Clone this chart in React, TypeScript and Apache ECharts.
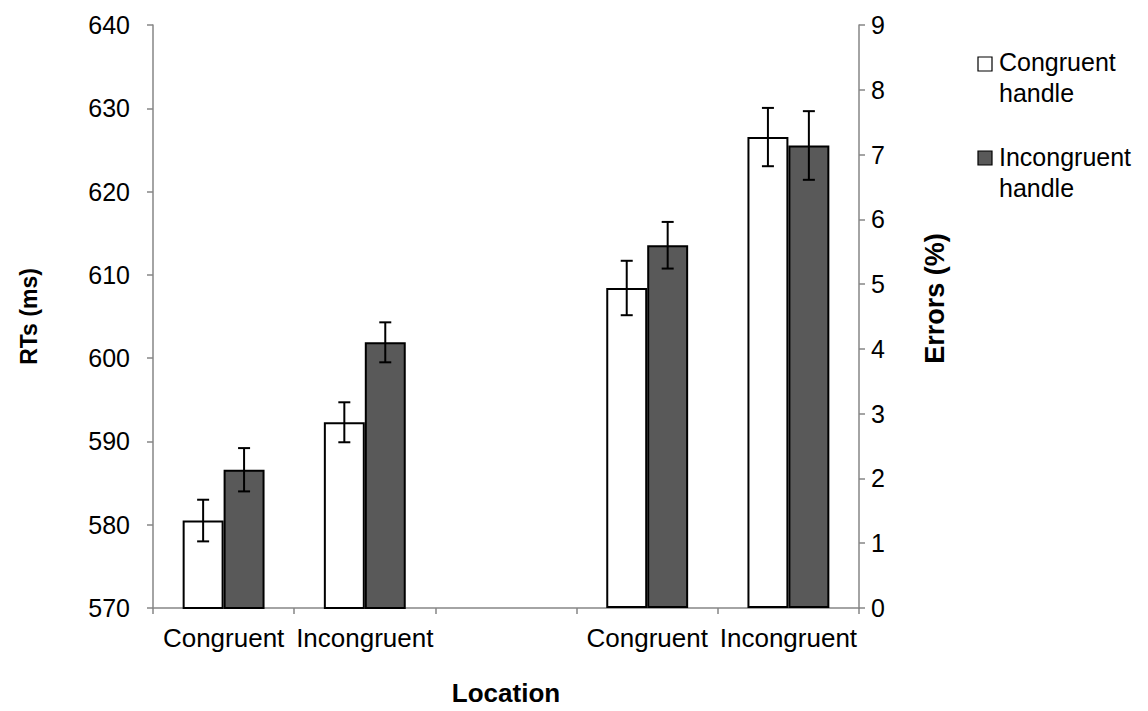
import React, { useEffect, useRef } from "react";
import * as echarts from "echarts";

const categories = ["Congruent", "Incongruent", "", "Congruent", "Incongruent"];
const seriesNames = ["Congruent handle", "Incongruent handle"];

// RTs (ms), left axis, first pair of categories
const rtCongruentHandle = [580.5, 592.3];
const rtCongruentHandleErr = [2.5, 2.4];
const rtIncongruentHandle = [586.6, 601.9];
const rtIncongruentHandleErr = [2.6, 2.4];

// Errors (%), right axis, last pair of categories
const errCongruentHandle = [4.94, 7.27];
const errCongruentHandleErr = [0.42, 0.45];
const errIncongruentHandle = [5.6, 7.14];
const errIncongruentHandleErr = [0.36, 0.53];

const rtTicks = { min: 570, max: 640, interval: 10 };
const errTicks = { min: 0, max: 9, interval: 1 };

const FONT = "Arial, 'Liberation Sans', sans-serif";
const AXIS_COLOR = "#868686";
const DARK = "#595959";

const rtIdx = [0, 1];
const errIdx = [3, 4];

function fill(idx: number[], vals: number[]) {
  const out: (number | string)[] = categories.map(() => "-");
  idx.forEach((c, i) => (out[c] = vals[i]));
  return out;
}

function errData(idx: number[], vals: number[], errs: number[]) {
  return idx.map((c, i) => [c, vals[i], errs[i]]);
}

function errorBarSeries(
  data: number[][],
  offsetFrac: number,
  xAxisIndex: number,
  yAxisIndex: number
) {
  return {
    type: "custom",
    xAxisIndex,
    yAxisIndex,
    z: 5,
    silent: true,
    encode: { x: 0, y: 1 },
    data,
    renderItem: (params: any, api: any) => {
      const c = api.value(0);
      const v = api.value(1);
      const e = api.value(2);
      const top = api.coord([c, v + e]);
      const bot = api.coord([c, v - e]);
      const w = api.size([1, 0])[0];
      const x = top[0] + offsetFrac * w;
      const cap = 6;
      const style = { stroke: "#000", lineWidth: 2 };
      return {
        type: "group",
        children: [
          { type: "line", shape: { x1: x, y1: top[1], x2: x, y2: bot[1] }, style },
          { type: "line", shape: { x1: x - cap, y1: top[1], x2: x + cap, y2: top[1] }, style },
          { type: "line", shape: { x1: x - cap, y1: bot[1], x2: x + cap, y2: bot[1] }, style },
        ],
      };
    },
  };
}

export default function App() {
  const ref = useRef<HTMLDivElement>(null);

  useEffect(() => {
    if (!ref.current) return;
    const chart = echarts.init(ref.current, null, { renderer: "svg" });

    const barCommon = {
      type: "bar",
      barGap: "0%",
      barCategoryGap: "42%",
      itemStyle: { borderColor: "#000", borderWidth: 2 },
    };

    const tickLabel = { color: "#000", fontSize: 25, fontFamily: FONT };
    const nameStyle = { color: "#000", fontWeight: "bold", fontFamily: FONT };

    chart.setOption({
      animation: false,
      textStyle: { fontFamily: FONT },
      grid: { left: 153, right: 289, top: 25, bottom: 99, containLabel: false },
      xAxis: [
        {
          type: "category",
          data: categories,
          name: "Location",
          nameLocation: "middle",
          nameGap: 72,
          nameTextStyle: { ...nameStyle, fontSize: 26 },
          axisLine: { show: true, lineStyle: { color: AXIS_COLOR, width: 1.5 } },
          axisTick: { show: true, length: 6, lineStyle: { color: AXIS_COLOR, width: 1.5 } },
          axisLabel: { color: "#000", fontSize: 26, fontFamily: FONT, margin: 17, interval: 0 },
        },
        {
          type: "category",
          data: categories,
          show: false,
        },
      ],
      yAxis: [
        {
          type: "value",
          position: "left",
          ...rtTicks,
          name: "RTs (ms)",
          nameLocation: "middle",
          nameRotate: 90,
          nameGap: 113,
          nameTextStyle: { ...nameStyle, fontSize: 23 },
          splitLine: { show: false },
          axisLine: { show: true, lineStyle: { color: AXIS_COLOR, width: 1.5 } },
          axisTick: { show: true, length: 6, lineStyle: { color: AXIS_COLOR, width: 1.5 } },
          axisLabel: { ...tickLabel, margin: 23 },
        },
        {
          type: "value",
          position: "right",
          ...errTicks,
          name: "Errors (%)",
          nameLocation: "middle",
          nameRotate: 90,
          nameGap: 62,
          nameTextStyle: { ...nameStyle, fontSize: 27, padding: [0, 0, 0, 36] },
          splitLine: { show: false },
          axisLine: { show: true, lineStyle: { color: AXIS_COLOR, width: 1.5 } },
          axisTick: { show: true, length: 6, lineStyle: { color: AXIS_COLOR, width: 1.5 } },
          axisLabel: { ...tickLabel, margin: 12 },
        },
      ],
      series: [
        {
          ...barCommon,
          name: seriesNames[0],
          xAxisIndex: 0,
          yAxisIndex: 0,
          data: fill(rtIdx, rtCongruentHandle),
          itemStyle: { ...barCommon.itemStyle, color: "#fff" },
        },
        {
          ...barCommon,
          name: seriesNames[1],
          xAxisIndex: 0,
          yAxisIndex: 0,
          data: fill(rtIdx, rtIncongruentHandle),
          itemStyle: { ...barCommon.itemStyle, color: DARK },
        },
        {
          ...barCommon,
          name: seriesNames[0],
          xAxisIndex: 1,
          yAxisIndex: 1,
          data: fill(errIdx, errCongruentHandle),
          itemStyle: { ...barCommon.itemStyle, color: "#fff" },
        },
        {
          ...barCommon,
          name: seriesNames[1],
          xAxisIndex: 1,
          yAxisIndex: 1,
          data: fill(errIdx, errIncongruentHandle),
          itemStyle: { ...barCommon.itemStyle, color: DARK },
        },
        errorBarSeries(errData(rtIdx, rtCongruentHandle, rtCongruentHandleErr), -0.145, 0, 0),
        errorBarSeries(errData(rtIdx, rtIncongruentHandle, rtIncongruentHandleErr), 0.145, 0, 0),
        errorBarSeries(errData(errIdx, errCongruentHandle, errCongruentHandleErr), -0.145, 1, 1),
        errorBarSeries(errData(errIdx, errIncongruentHandle, errIncongruentHandleErr), 0.145, 1, 1),
      ],
      graphic: [
        {
          type: "rect",
          shape: { x: 978, y: 57, width: 14, height: 14 },
          style: { fill: "#fff", stroke: "#000", lineWidth: 1.2 },
        },
        {
          type: "text",
          x: 999,
          y: 46.5,
          style: {
            text: seriesNames[0].replace(" ", "\n"),
            fill: "#000",
            fontSize: 25,
            fontFamily: FONT,
            lineHeight: 31,
          },
        },
        {
          type: "rect",
          shape: { x: 978, y: 151, width: 14, height: 14 },
          style: { fill: DARK, stroke: "#000", lineWidth: 1.2 },
        },
        {
          type: "text",
          x: 999,
          y: 141.5,
          style: {
            text: seriesNames[1].replace(" ", "\n"),
            fill: "#000",
            fontSize: 25,
            fontFamily: FONT,
            lineHeight: 31,
          },
        },
      ],
    });

    return () => chart.dispose();
  }, []);

  return (
    <div
      ref={ref}
      style={{ position: "absolute", left: 0, top: 0, width: 1148, height: 711 }}
    />
  );
}
